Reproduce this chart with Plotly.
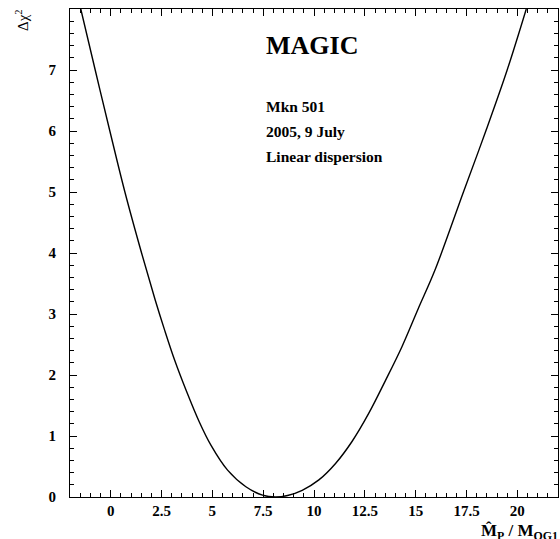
import plotly.graph_objects as go

# Curve (delta chi^2 vs M_P/M_QG1)
ratio = [-1.47, -0.76, -0.04, 0.7, 1.52, 2.19, 2.65, 3.14, 3.71, 4.36, 4.93, 5.75, 6.65,
         7.47, 8.1, 8.7, 9.42, 10.24, 11.06, 11.87, 12.69, 13.5, 14.32, 15.13, 15.95,
         17.35, 18.45, 19.5, 20.44]
dchi2 = [8.0, 7.0, 6.0, 5.0, 4.0, 3.23, 2.74, 2.25, 1.75, 1.23, 0.85, 0.44, 0.168,
         0.03, 0.0, 0.025, 0.11, 0.28, 0.55, 0.91, 1.37, 1.9, 2.46, 3.09, 3.72,
         5.0, 6.0, 7.0, 8.0]

x_ticks = [0, 2.5, 5, 7.5, 10, 12.5, 15, 17.5, 20]
x_labels = ["0", "2.5", "5", "7.5", "10", "12.5", "15", "17.5", "20"]
y_ticks = [0, 1, 2, 3, 4, 5, 6, 7]

FONT = "Liberation Serif"
W, H = 560, 539
L, R, T, B = 70, 2, 9, 42

fig = go.Figure()
fig.add_trace(go.Scatter(x=ratio, y=dchi2, mode="lines",
                         line=dict(color="black", width=1.4, shape="spline", smoothing=1.0),
                         showlegend=False, hoverinfo="skip"))

axis_common = dict(showline=True, linecolor="black", linewidth=1.2, mirror="ticks",
                   ticks="inside", tickwidth=1.2, tickcolor="black",
                   showgrid=False, zeroline=False,
                   tickfont=dict(family=FONT, size=15, color="black"))

fig.update_xaxes(range=[-2, 22], tickvals=x_ticks, ticktext=[f"<b>{t}</b>" for t in x_labels],
                 ticklen=7,
                 minor=dict(dtick=0.5, ticklen=4, ticks="inside", tickcolor="black", tickwidth=1),
                 **axis_common)
fig.update_yaxes(range=[0, 8], tickvals=y_ticks, ticktext=[f"<b>{t}</b>" for t in y_ticks],
                 ticklen=7, ticklabelstandoff=10,
                 minor=dict(dtick=0.2, ticklen=4, ticks="inside", tickcolor="black", tickwidth=1),
                 **axis_common)

pw, ph = W - L - R, H - T - B


def px(xp):
    return (xp - L) / pw


def py(yp):
    return (H - B - yp) / ph


ann_font = dict(family=FONT, color="black")
texts = [("<b>MAGIC</b>", 46, 26), ("<b>Mkn 501</b>", 107, 15.5),
         ("<b>2005, 9 July</b>", 131, 15.5), ("<b>Linear dispersion</b>", 156, 15.5)]
for txt, yp, size in texts:
    fig.add_annotation(text=txt, x=px(264), y=py(yp), xref="paper", yref="paper",
                       xanchor="left", yanchor="middle", showarrow=False,
                       font=dict(size=size, **ann_font))

fig.add_annotation(text="Δχ<sup>2</sup>", x=px(22), y=py(20), xref="paper", yref="paper",
                   showarrow=False, textangle=-90, xanchor="center", yanchor="middle",
                   font=dict(size=15, **ann_font))
fig.add_annotation(text="<b>M̂<sub>P</sub> / M<sub>QG1</sub></b>", x=px(560), y=py(519),
                   xref="paper", yref="paper", showarrow=False, xanchor="right", yanchor="top",
                   font=dict(size=17, **ann_font))

fig.update_layout(width=W, height=H, margin=dict(l=L, r=R, t=T, b=B),
                  plot_bgcolor="white", paper_bgcolor="white")

fig.write_html("out.html", config={"displayModeBar": False},
               post_script="document.body.style.margin='0';document.body.style.overflow='hidden';")
